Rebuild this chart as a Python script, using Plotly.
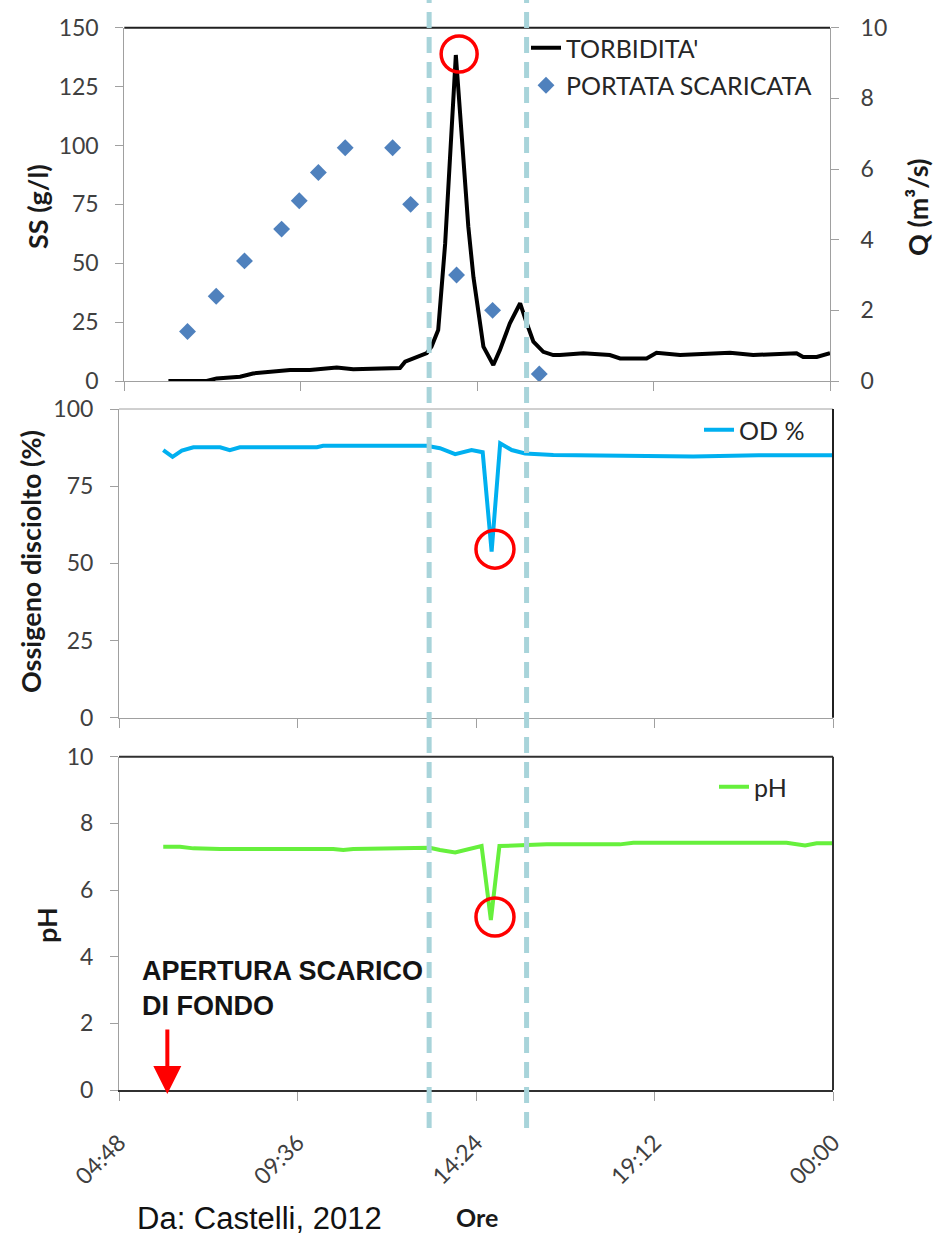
import plotly.graph_objects as go

# ---------------- data ----------------
# time in decimal hours
torb_h = [6.00, 7.04, 7.31, 7.95, 8.30, 9.04, 9.31, 9.85, 10.58, 11.03, 11.67, 12.30,
          12.44, 12.66, 13.03, 13.16, 13.34, 13.53, 13.66, 13.82, 13.89, 14.16, 14.30,
          14.57, 14.84, 15.02, 15.29, 15.57, 15.75, 15.93, 16.20, 16.47, 16.65, 17.29,
          18.01, 18.29, 19.01, 19.28, 19.92, 21.28, 21.91, 23.09, 23.27, 23.64, 24.00]
torb_ss = [0.0, 0.0, 1.1, 1.8, 3.2, 4.0, 4.7, 4.7, 5.7, 5.0, 5.4, 5.5,
           8.2, 9.6, 11.8, 14.6, 21.6, 58.4, 92.4, 138.4, 123.5, 65.5, 44.0,
           14.6, 6.8, 13.2, 24.5, 33.0, 24.5, 16.7, 12.4, 11.0, 11.0, 11.8,
           11.0, 9.6, 9.6, 12.0, 11.0, 12.0, 11.0, 11.8, 10.2, 10.2, 11.8]

q_h = [6.52, 7.30, 8.07, 9.08, 9.56, 10.08, 10.81, 12.10, 12.59, 13.84, 14.82, 16.09]
q_val = [1.4, 2.4, 3.4, 4.3, 5.1, 5.9, 6.6, 6.6, 5.0, 3.0, 2.0, 0.2]

od_h = [5.99, 6.24, 6.49, 6.80, 7.52, 7.78, 8.05, 10.12, 10.29, 13.07, 13.43, 13.84,
        14.28, 14.58, 14.82, 15.05, 15.36, 15.72, 16.48, 17.73, 20.24, 22.00, 24.00]
od_val = [86.7, 84.5, 86.5, 87.6, 87.6, 86.7, 87.6, 87.6, 88.1, 88.1, 87.3, 85.4,
          86.7, 86.0, 53.8, 88.9, 86.7, 85.6, 85.1, 85.0, 84.6, 85.0, 85.0]

ph_h = [5.99, 6.44, 6.80, 7.52, 10.56, 10.83, 11.10, 12.36, 13.16, 13.43, 13.84, 14.55,
        14.80, 15.03, 15.76, 16.30, 18.27, 18.63, 22.75, 23.25, 23.56, 24.00]
ph_val = [7.30, 7.30, 7.25, 7.23, 7.23, 7.20, 7.23, 7.25, 7.27, 7.20, 7.13, 7.32,
          5.10, 7.32, 7.35, 7.37, 7.37, 7.42, 7.42, 7.34, 7.40, 7.40]

x_tickvals = [4.8, 9.6, 14.4, 19.2, 24.0]
x_ticktext = ["04:48", "09:36", "14:24", "19:12", "00:00"]

event_lines_h = [13.14, 15.76]          # dashed vertical lines
opening_h = 6.1                          # apertura scarico di fondo
highlight_top = (13.91, 138.8)
highlight_od = (14.91, 54.6)
highlight_ph = (14.91, 5.19)

# ---------------- figure ----------------
W, H = 950, 1236
def px(x):
    return x / W
def py(y):
    return 1 - y / H

TICKFONT = dict(family="Lato", size=23, color="#404040")
LEGFONT = dict(family="Lato", size=25, color="#262626")
GRAY = "#a0a0a0"

fig = go.Figure()

fig.add_trace(go.Scatter(x=torb_h, y=torb_ss, mode="lines", name="TORBIDITA'",
                         line=dict(color="black", width=4), xaxis="x", yaxis="y",
                         legend="legend", legendgroup="a"))
fig.add_trace(go.Scatter(x=q_h, y=q_val, mode="markers", name="PORTATA SCARICATA",
                         marker=dict(symbol="diamond", size=13, color="#4f81bd"),
                         xaxis="x", yaxis="y2", legend="legend", legendgroup="b"))
fig.add_trace(go.Scatter(x=od_h, y=od_val, mode="lines", name="OD %",
                         line=dict(color="#00b0f0", width=4), xaxis="x2", yaxis="y3",
                         legend="legend2"))
fig.add_trace(go.Scatter(x=ph_h, y=ph_val, mode="lines", name="pH",
                         line=dict(color="#66f03c", width=4), xaxis="x3", yaxis="y4",
                         legend="legend3"))

xcommon = dict(range=[4.8, 24], tickvals=x_tickvals, ticktext=x_ticktext,
               ticks="outside", ticklen=9, tickcolor=GRAY, showline=True,
               linecolor=GRAY, linewidth=1, showgrid=False, zeroline=False,
               tickfont=TICKFONT, automargin=False)
ycommon = dict(ticks="outside", ticklen=8, tickcolor=GRAY, showline=True,
               linecolor=GRAY, linewidth=1, showgrid=False, zeroline=False,
               tickfont=TICKFONT, ticklabelstandoff=12, automargin=False)

dom_top = [px(124.3), px(830)]
dom_bot = [px(119), px(833)]

fig.update_layout(
    width=W, height=H, margin=dict(l=0, r=0, t=0, b=0, autoexpand=False),
    paper_bgcolor="white", plot_bgcolor="white",
    xaxis=dict(xcommon, domain=dom_top, anchor="y", showticklabels=False),
    yaxis=dict(ycommon, domain=[py(381), py(27.7)], range=[0, 150],
               tickvals=[0, 25, 50, 75, 100, 125, 150]),
    yaxis2=dict(ycommon, overlaying="y", side="right", anchor="x", range=[0, 10],
                tickvals=[0, 2, 4, 6, 8, 10], ticklabelstandoff=17),
    xaxis2=dict(xcommon, domain=dom_bot, anchor="y3", showticklabels=False),
    yaxis3=dict(ycommon, domain=[py(717.7), py(409)], anchor="x2", range=[0, 100],
                tickvals=[0, 25, 50, 75, 100]),
    xaxis3=dict(xcommon, domain=dom_bot, anchor="y4", tickangle=-45,
                ticklabelstandoff=19,
                linecolor="#303030", linewidth=2),
    yaxis4=dict(ycommon, domain=[py(1090), py(756.7)], anchor="x3", range=[0, 10],
                tickvals=[0, 2, 4, 6, 8, 10]),
    legend=dict(x=px(526), y=py(25), xanchor="left", yanchor="top", font=LEGFONT,
                bgcolor="rgba(0,0,0,0)", tracegroupgap=2, itemwidth=30),
    legend2=dict(x=px(699), y=py(430), xanchor="left", yanchor="middle", font=LEGFONT,
                 bgcolor="rgba(0,0,0,0)", itemwidth=30),
    legend3=dict(x=px(714), y=py(787), xanchor="left", yanchor="middle", font=LEGFONT,
                 bgcolor="rgba(0,0,0,0)", itemwidth=30),
    showlegend=True,
)

shapes = []
# frame borders (relative to each subplot's domain)
def border(xr, yr, side, color, width):
    seg = {"top": (0, 1, 1, 1), "right": (1, 1, 0, 1), "bottom": (0, 1, 0, 0)}[side]
    return dict(type="line", xref=xr + " domain", yref=yr + " domain",
                x0=seg[0], x1=seg[1], y0=seg[2], y1=seg[3],
                line=dict(color=color, width=width), layer="above")

shapes.append(border("x", "y", "top", "#202020", 2))
shapes.append(border("x2", "y3", "top", GRAY, 1))
shapes.append(border("x2", "y3", "right", "#202020", 2))
shapes.append(border("x3", "y4", "top", "#303030", 2))
shapes.append(border("x3", "y4", "right", "#303030", 2))

# dashed event lines spanning all panels
for h in event_lines_h:
    shapes.append(dict(type="line", xref="x3", yref="paper", x0=h, x1=h,
                       y0=py(1128), y1=1.0,
                       line=dict(color="#a8d4da", width=5, dash="16px,9px"),
                       layer="above"))

# red highlight circles
def circle(xr, yr, c, r):
    return dict(type="circle", xref=xr, yref=yr, xsizemode="pixel", ysizemode="pixel",
                xanchor=c[0], yanchor=c[1], x0=-r, x1=r, y0=-r, y1=r,
                line=dict(color="#ff0000", width=3.5), layer="above")

shapes.append(circle("x", "y", highlight_top, 18))
shapes.append(circle("x2", "y3", highlight_od, 19))
shapes.append(circle("x3", "y4", highlight_ph, 19))

fig.update_layout(shapes=shapes)

ann = []
TITLEFONT = dict(family="Lato", size=27, color="#1a1a1a")
def title(text, x, y, angle=-90, font=TITLEFONT):
    return dict(text=text, x=px(x), y=py(y), xref="paper", yref="paper",
                xanchor="center", yanchor="middle", textangle=angle,
                showarrow=False, font=font)

ann.append(title("<b>SS (g/l)</b>", 37, 207))
ann.append(title("<b>Q (m³/s)</b>", 917, 207))
ann.append(title("<b>Ossigeno disciolto (%)</b>", 30, 562))
ann.append(title("<b>pH</b>", 46, 925))
ann.append(title("<b>Ore</b>", 477, 1217, angle=0,
                 font=dict(family="Lato", size=25, color="#1a1a1a")))
ann.append(dict(text="Da: Castelli, 2012", x=px(135), y=py(1218), xref="paper", yref="paper",
                xanchor="left", yanchor="middle", showarrow=False,
                font=dict(family="Liberation Sans", size=31, color="#111111")))
ann.append(dict(text="<b>APERTURA SCARICO<br>DI FONDO</b>", x=px(140), y=py(988),
                xref="paper", yref="paper", xanchor="left", yanchor="middle", align="left",
                showarrow=False,
                font=dict(family="Liberation Sans", size=27, color="#141414")))
# red arrow marking the opening
ann.append(dict(text="", x=opening_h, y=0, xref="x3", yref="y4", showarrow=True,
                ax=0, ay=-66, axref="pixel", ayref="pixel", arrowhead=2, arrowsize=1.4,
                arrowwidth=4, arrowcolor="#ff0000", yshift=-4))
fig.update_layout(annotations=ann)

fig.write_html("out.html")
